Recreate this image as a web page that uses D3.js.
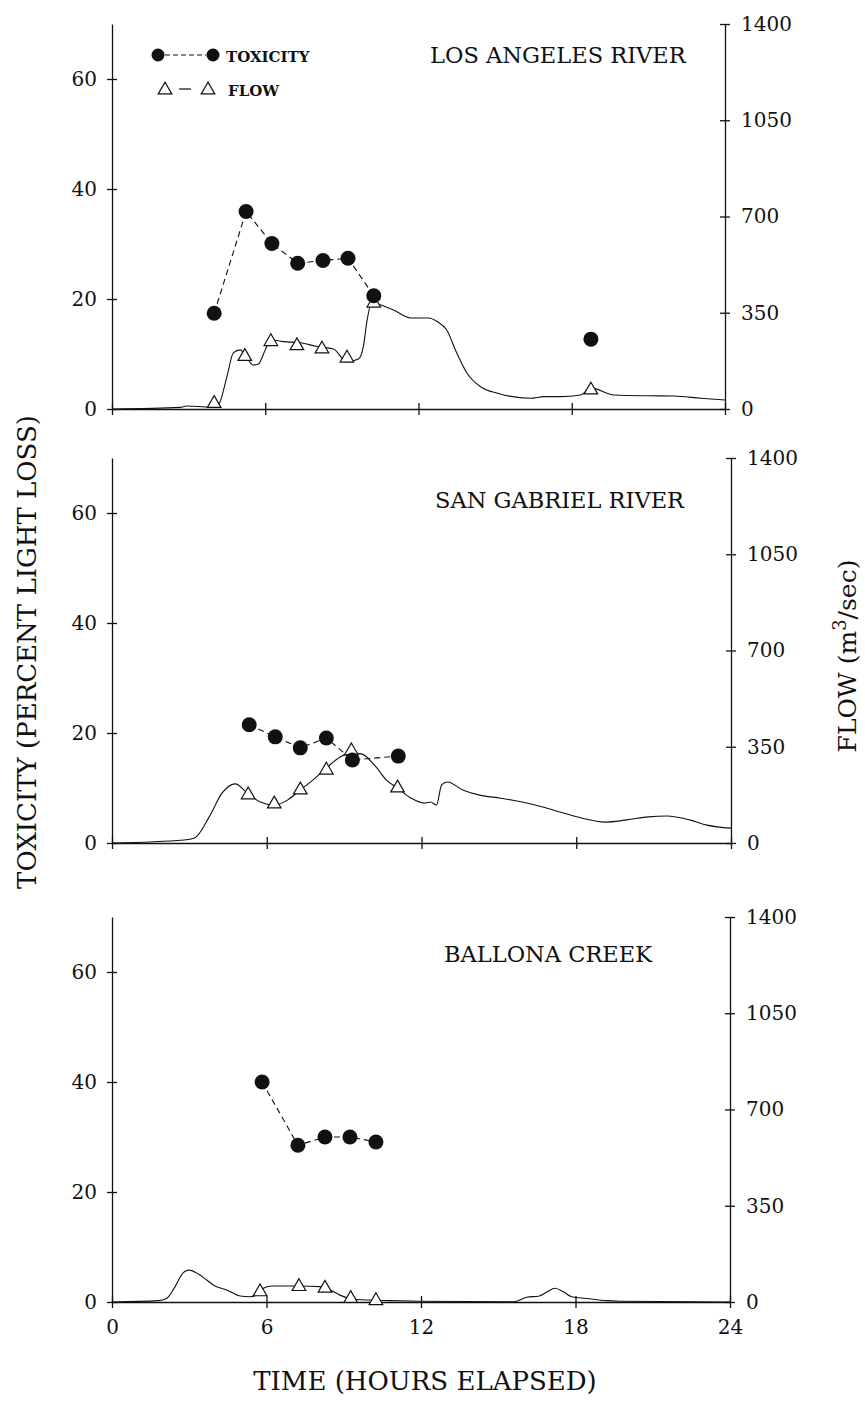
<!DOCTYPE html>
<html>
<head>
<meta charset="utf-8">
<script src="https://cdn.jsdelivr.net/npm/d3@7"></script>
<style>
  body { margin: 0; background: #fff; }
  svg { display: block; }
  text { font-family: "DejaVu Serif", serif; fill: #111; }
</style>
</head>
<body>
<svg id="chart" width="865" height="1404"></svg>
<script>
const rivers = ["LOS ANGELES RIVER", "SAN GABRIEL RIVER", "BALLONA CREEK"];
const toxTicks = [0, 20, 40, 60];
const flowTicks = [0, 350, 700, 1050, 1400];
const hourTicks = [0, 6, 12, 18, 24];

// Los Angeles River
const laToxHours = [4.0, 5.25, 6.26, 7.27, 8.26, 9.24, 10.25, 18.75];
const laToxicity = [17.4, 35.9, 30.1, 26.5, 27.0, 27.4, 20.6, 12.7];
const laToxRun   = [0, 0, 0, 0, 0, 0, 0, 1];   // last sample is not joined
const laFlowPtHours = [4.0, 5.2, 6.22, 7.24, 8.22, 9.2, 10.25, 18.75];
const laFlowPts     = [20, 191, 245, 230, 218, 185, 385, 69];
const laFlowHours = [0, 2.67, 2.93, 3.84, 4.16, 4.5, 4.75, 5.02, 5.28, 5.53, 5.73, 6.0, 6.2, 6.7, 7.37, 8.03, 8.67, 9.2, 9.65, 9.84, 9.99, 10.18, 10.5, 11.0, 11.7, 12.4, 12.73, 13.1, 13.5, 13.9, 14.43, 15.1, 16.4, 16.9, 17.57, 18.35, 18.75, 19.65, 20.97, 22.0, 23.06, 24];
const laFlow      = [0, 6, 11, 7, 15, 118, 204, 215, 186, 160, 164, 215, 252, 245, 241, 227, 218, 172, 182, 227, 324, 391, 379, 361, 331, 331, 318, 288, 203, 130, 81, 57, 39, 45, 45, 51, 77, 51, 48, 47, 39, 33];

// San Gabriel River
const sgToxHours = [5.32, 6.33, 7.3, 8.31, 9.32, 11.1];
const sgToxicity = [21.5, 19.3, 17.3, 19.1, 15.1, 15.8];
const sgToxRun   = [0, 0, 0, 0, 0, 0];
const sgFlowPtHours = [5.28, 6.29, 7.3, 8.31, 9.28, 11.07];
const sgFlowPts     = [175, 142, 193, 265, 335, 200];
const sgFlowHours = [0, 2.8, 3.2, 3.77, 4.27, 4.78, 5.24, 5.75, 6.29, 6.8, 7.3, 7.88, 8.35, 8.85, 9.24, 9.67, 10.17, 10.64, 11.07, 11.6, 12.1, 12.35, 12.58, 12.78, 13.0, 13.6, 14.25, 15.07, 15.9, 16.7, 17.5, 18.2, 19.1, 19.96, 20.8, 21.5, 22.4, 23.07, 24];
const sgFlow      = [0, 11, 18, 95, 182, 215, 182, 149, 138, 156, 193, 236, 276, 313, 327, 324, 284, 229, 200, 163, 145, 149, 138, 211, 222, 193, 174, 163, 149, 131, 109, 91, 76, 84, 95, 98, 84, 65, 54];

// Ballona Creek
const bcToxHours = [5.83, 7.22, 8.27, 9.24, 10.25];
const bcToxicity = [40, 28.5, 30, 30, 29.1];
const bcToxRun   = [0, 0, 0, 0, 0];
const bcFlowPtHours = [5.75, 7.26, 8.27, 9.27, 10.25];
const bcFlowPts     = [37, 56, 50, 13, 5];
const bcFlowHours = [0, 1.8, 2.12, 2.45, 2.77, 3.0, 3.35, 3.68, 4.0, 4.45, 4.97, 5.36, 5.62, 5.88, 6.2, 6.78, 7.3, 8.08, 8.47, 8.85, 9.24, 9.89, 10.8, 11.96, 15.6, 16.1, 16.6, 16.9, 17.2, 17.53, 17.85, 18.43, 19.2, 19.7, 24];
const bcFlow      = [0, 5, 13, 56, 107, 116, 102, 80, 58, 44, 22, 19, 25, 50, 58, 58, 58, 56, 44, 25, 13, 7, 5, 3, 1, 17, 22, 37, 50, 37, 19, 13, 5, 3, 0];

const zip = (a, b) => a.map((h, i) => [h, b[i]]);
const series = [
  { tox: zip(laToxHours, laToxicity), run: laToxRun, pts: zip(laFlowPtHours, laFlowPts), flow: zip(laFlowHours, laFlow) },
  { tox: zip(sgToxHours, sgToxicity), run: sgToxRun, pts: zip(sgFlowPtHours, sgFlowPts), flow: zip(sgFlowHours, sgFlow) },
  { tox: zip(bcToxHours, bcToxicity), run: bcToxRun, pts: zip(bcFlowPtHours, bcFlowPts), flow: zip(bcFlowHours, bcFlow) }
];

// panel placement (scan is slightly skewed, so right edges differ a bit)
const left = 112, panelH = 385;
const boxes = [
  { bottom: 409,  right: 725, titleX: 430, titleY: 63 },
  { bottom: 843,  right: 731, titleX: 435, titleY: 508 },
  { bottom: 1302, right: 730, titleX: 444, titleY: 962 }
];

const svg = d3.select("#chart");
const tri = d3.symbol(d3.symbolTriangle, 80);

series.forEach((s, i) => {
  const b = boxes[i];
  const x = d3.scaleLinear().domain([0, 24]).range([left, b.right]);
  const yT = d3.scaleLinear().domain([0, 70]).range([b.bottom, b.bottom - panelH]);
  const yF = d3.scaleLinear().domain([0, 1400]).range([b.bottom, b.bottom - panelH]);
  const g = svg.append("g");

  // axes
  const ax = g.append("g").attr("transform", `translate(${left},0)`)
    .call(d3.axisLeft(yT).tickValues(toxTicks).tickSize(5).tickPadding(10).tickSizeOuter(0));
  ax.selectAll(".tick line").attr("x1", 5);

  const ar = g.append("g").attr("transform", `translate(${b.right},0)`)
    .call(d3.axisRight(yF).tickValues(flowTicks).tickFormat(d3.format("d"))
      .tickSize(5).tickPadding(11).tickSizeOuter(0));
  ar.selectAll(".tick line").attr("x1", -5);

  const ab = g.append("g").attr("transform", `translate(0,${b.bottom})`)
    .call(d3.axisBottom(x).tickValues(hourTicks).tickSize(6).tickPadding(12).tickSizeOuter(0)
      .tickFormat(i === 2 ? d3.format("d") : () => ""));
  ab.selectAll(".tick line").attr("y1", -6);

  [ax, ar, ab].forEach(a => {
    a.attr("font-family", null).attr("font-size", 20);
    a.selectAll("path, line").attr("stroke", "#111").attr("stroke-width", 1.3);
  });

  // flow trace
  g.append("path").datum(s.flow)
    .attr("fill", "none").attr("stroke", "#111").attr("stroke-width", 1.1)
    .attr("d", d3.line().x(d => x(d[0])).y(d => yF(d[1])).curve(d3.curveMonotoneX));

  // toxicity dashed joins
  d3.groups(s.tox.map((d, k) => ({ d, r: s.run[k] })), e => e.r).forEach(([, run]) => {
    if (run.length < 2) return;
    g.append("path").datum(run.map(e => e.d))
      .attr("fill", "none").attr("stroke", "#111").attr("stroke-width", 1.1)
      .attr("stroke-dasharray", "6,4")
      .attr("d", d3.line().x(d => x(d[0])).y(d => yT(d[1])));
  });

  g.append("g").selectAll("path").data(s.pts).join("path")
    .attr("transform", d => `translate(${x(d[0])},${yF(d[1])})`)
    .attr("d", tri).attr("fill", "#fff").attr("stroke", "#111").attr("stroke-width", 1.2);

  g.append("g").selectAll("circle").data(s.tox).join("circle")
    .attr("cx", d => x(d[0])).attr("cy", d => yT(d[1])).attr("r", 7.5).attr("fill", "#111");

  g.append("text").attr("x", b.titleX).attr("y", b.titleY)
    .attr("font-size", 22.5).text(rivers[i]);
});

// legend (top panel)
const lg = svg.append("g");
lg.append("line").attr("x1", 165).attr("x2", 206).attr("y1", 55).attr("y2", 55)
  .attr("stroke", "#111").attr("stroke-width", 1.1).attr("stroke-dasharray", "5,3");
lg.selectAll("circle").data([158, 213]).join("circle")
  .attr("cx", d => d).attr("cy", 55).attr("r", 6.5).attr("fill", "#111");
lg.append("text").attr("x", 226).attr("y", 62).attr("font-size", 15).attr("font-weight", "bold").text("TOXICITY");
lg.append("line").attr("x1", 179).attr("x2", 191).attr("y1", 89).attr("y2", 89)
  .attr("stroke", "#111").attr("stroke-width", 1.2);
lg.selectAll("path").data([165, 208]).join("path")
  .attr("transform", d => `translate(${d},90)`).attr("d", tri)
  .attr("fill", "#fff").attr("stroke", "#111").attr("stroke-width", 1.2);
lg.append("text").attr("x", 228).attr("y", 96).attr("font-size", 15).attr("font-weight", "bold").text("FLOW");

// axis titles
svg.append("text").attr("transform", "translate(36,652) rotate(-90)")
  .attr("text-anchor", "middle").attr("font-size", 26).text("TOXICITY (PERCENT LIGHT LOSS)");

const ft = svg.append("text").attr("transform", "translate(856,656) rotate(-90)")
  .attr("text-anchor", "middle").attr("font-size", 25);
ft.append("tspan").text("FLOW (m");
ft.append("tspan").attr("dy", -10).attr("font-size", 18).text("3");
ft.append("tspan").attr("dy", 10).text("/sec)");

svg.append("text").attr("x", 425).attr("y", 1390)
  .attr("text-anchor", "middle").attr("font-size", 26).text("TIME (HOURS ELAPSED)");
</script>
</body>
</html>
